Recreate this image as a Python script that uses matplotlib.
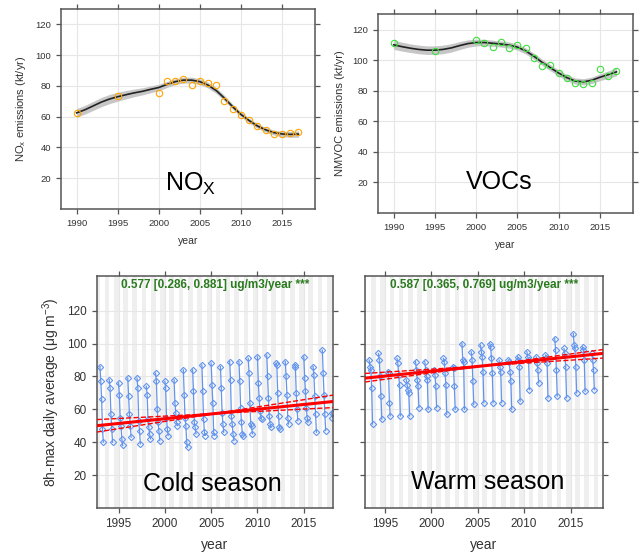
import numpy as np
import matplotlib.pyplot as plt

plt.rcParams['font.family'] = ['Liberation Sans', 'DejaVu Sans']

# annual emissions (points) and smooth fit with its band
em_years = [1990, 1995, 2000, 2001, 2002, 2003, 2004, 2005, 2006, 2007, 2008,
            2009, 2010, 2011, 2012, 2013, 2014, 2015, 2016, 2017]
nox = [62.4, 73.3, 75.4, 83.5, 83.0, 84.8, 80.9, 83.5, 82.0, 80.4, 70.0,
       65.0, 61.3, 57.6, 54.1, 51.5, 48.9, 48.7, 49.3, 49.8]
voc = [110.9, 105.9, 113.0, 111.3, 108.7, 112.0, 108.0, 110.2, 108.0, 101.1, 96.3,
       96.7, 91.3, 88.5, 84.8, 84.3, 85.2, 93.9, 89.6, 93.0]

fit_years = list(range(1990, 2018))
nox_fit = [62.5, 64.5, 67.0, 69.5, 71.5, 73.0, 74.3, 75.5, 76.5, 77.8, 79.0, 81.0, 82.8, 83.8,
           83.8, 82.8, 80.5, 77.0, 72.0, 66.5, 61.5, 57.5, 54.0, 51.5, 49.7, 48.8, 48.5, 48.7]
nox_band = [2.8, 2.8, 2.9, 3.0, 3.0, 2.9, 2.7, 2.5, 2.3, 2.2, 2.1, 2.0, 1.9, 1.9,
            1.9, 1.9, 1.9, 1.9, 1.8, 1.7, 1.6, 1.5, 1.5, 1.5, 1.6, 1.7, 1.9, 2.1]
voc_fit = [110.0, 108.8, 107.8, 107.0, 106.5, 106.5, 107.0, 108.0, 109.5, 110.8, 111.5, 111.5, 111.0, 110.5,
           109.8, 108.5, 106.0, 102.5, 98.5, 95.0, 91.5, 88.5, 86.3, 85.8, 86.8, 88.8, 90.5, 92.3]
voc_band = [3.0, 2.9, 2.8, 2.8, 2.8, 2.8, 2.8, 2.7, 2.6, 2.4, 2.2, 2.1, 2.0, 2.0,
            2.0, 2.0, 2.0, 2.0, 2.0, 2.0, 2.0, 2.0, 2.0, 2.0, 2.1, 2.2, 2.4, 2.6]

# monthly 8h-max ozone, grouped by season year
cold_years = list(range(1993, 2019))
cold = [
    [86, 77, 66, 48, 40], [78, 73, 57, 48, 40], [76, 69, 55, 50, 42, 38],
    [79, 68, 57, 50, 43], [79, 73, 53, 47, 39], [74, 69, 54, 49, 45, 42],
    [82, 77, 60, 52, 47, 41], [77, 73, 55, 48, 44], [78, 64, 58, 52, 50],
    [84, 69, 55, 50, 40, 37], [84, 71, 52, 49, 45], [87, 71, 54, 46, 44],
    [88, 75, 64, 46, 44], [86, 73, 58, 51, 46], [89, 78, 56, 51, 45, 41],
    [89, 77, 61, 52, 45, 44], [91, 82, 64, 51, 50, 45], [92, 76, 67, 59, 55, 54],
    [93, 80, 67, 56, 51, 49], [88, 87, 70, 56, 49, 48], [89, 80, 69, 55, 51],
    [87, 86, 70, 60, 53], [92, 79, 71, 61, 55, 52], [86, 81, 68, 57, 46],
    [96, 82, 69, 57, 47], [58, 55],
]
warm_years = list(range(1993, 2018))
warm = [
    [90, 86, 84, 73, 51], [94, 90, 80, 68, 54], [83, 82, 64, 56],
    [91, 88, 81, 75, 56], [78, 75, 72, 70, 56], [89, 84, 78, 74, 61],
    [89, 84, 80, 78, 60], [84, 81, 74, 61], [91, 89, 82, 75, 57],
    [86, 85, 74, 60], [100, 90, 89, 60], [95, 90, 77, 63],
    [99, 95, 92, 83, 64], [100, 98, 91, 82, 64], [90, 86, 83, 64],
    [90, 89, 83, 77, 60], [92, 90, 86, 65], [95, 92, 90, 72],
    [92, 88, 84, 76], [93, 91, 88, 67], [103, 96, 84, 68],
    [97, 94, 86, 67], [106, 99, 97, 86, 70], [98, 96, 90, 71],
    [94, 90, 84, 72],
]

# Theil-Sen slope [lower, upper] and level at the middle year
cold_trend = [0.577, 0.286, 0.881]
cold_mid = (2005.4, 57.4)
warm_trend = [0.587, 0.365, 0.769]
warm_mid = (2005.7, 86.5)

fig = plt.figure(figsize=(6.41, 5.6), dpi=100)
frame = '#555555'


def style(ax, fs):
    ax.tick_params(direction='out', length=3.5, width=0.9, color=frame,
                   labelsize=fs, labelcolor='#333333', top=True, right=True)
    for s in ax.spines.values():
        s.set_color(frame)
        s.set_linewidth(1.1)
    ax.grid(True, color='#e6e6e6', lw=0.8)
    ax.set_axisbelow(True)


def emissions(ax, y, fit, band, col, ylab, big, bx, by):
    fit = np.array(fit)
    band = np.array(band)
    ax.fill_between(fit_years, fit - band, fit + band, color='#c6c6c6', lw=0)
    ax.plot(fit_years, fit, color='#222222', lw=1.2)
    ax.plot(em_years, y, 'o', mfc='none', mec=col, ms=4.6, mew=0.8)
    ax.set_xlim(1988.1, 2019)
    ax.set_ylim(0, 130)
    ax.set_xticks(range(1990, 2016, 5))
    ax.set_yticks(range(20, 121, 20))
    style(ax, 6.8)
    ax.set_xlabel('year', fontsize=7.5, color='#333333', labelpad=6)
    ax.set_ylabel(ylab, fontsize=8, color='#333333', labelpad=5)
    ax.text(bx, by, big, fontsize=18, ha='center', va='center')


ax1 = fig.add_axes([0.0952, 0.6268, 0.396, 0.357])
emissions(ax1, nox, nox_fit, nox_band, '#FFA500',
          r'NO$_\mathregular{x}$ emissions (kt/yr)', r'NO$_\mathregular{X}$', 2003.9, 16)
ax2 = fig.add_axes([0.5897, 0.6196, 0.3978, 0.355])
emissions(ax2, voc, voc_fit, voc_band, '#3ee03e',
          'NMVOC emissions (kt/yr)', 'VOCs', 2002.8, 20)


def season(ax, yrs, groups, start, trend, mid, xlim, label, lx, ly):
    ax.set_xlim(*xlim)
    ax.set_ylim(0, 141)
    for y in range(1992, 2019):
        ax.axvspan(y + 0.5, y + 1.0, color='#efefef', lw=0, zorder=0)
    for yr, vals in zip(yrs, groups):
        x = yr + start + 0.09 * np.arange(len(vals))
        ax.plot(x, vals, '-D', color='#6495ED', lw=0.9, ms=3.2,
                mfc='none', mew=0.8, zorder=2)
    xs = np.array(xlim)
    s, lo, hi = trend
    ax.plot(xs, mid[1] + s * (xs - mid[0]), color='red', lw=2.2, zorder=3)
    for k in (lo, hi):
        ax.plot(xs, mid[1] + k * (xs - mid[0]), color='red', lw=1.0, ls='--', zorder=3)
    ax.text(np.mean(xlim), 135.5, f'{s:.3f} [{lo:.3f}, {hi:.3f}] ug/m3/year ***',
            fontsize=8.5, fontweight='bold', color='#2a7a1e', ha='center', va='center')
    ax.set_xticks(range(1995, 2016, 5))
    ax.set_yticks(range(20, 121, 20))
    style(ax, 8.5)
    ax.set_xlabel('year', fontsize=10, color='#333333', labelpad=6)
    ax.text(lx, ly, label, fontsize=18, ha='center', va='center')


ax3 = fig.add_axes([0.1509, 0.0929, 0.3686, 0.414])
season(ax3, cold_years, cold, 0.0, cold_trend, cold_mid, (1992.65, 2018.15),
       'Cold season', 2005.1, 14.5)
ax3.set_ylabel(r'8h-max daily average (μg m$^{\mathregular{-3}}$)', fontsize=10,
               color='#333333', labelpad=4)
ax4 = fig.add_axes([0.5694, 0.0929, 0.3713, 0.414])
season(ax4, warm_years, warm, 0.3, warm_trend, warm_mid, (1992.85, 2018.5),
       'Warm season', 2006.1, 16)
ax4.tick_params(labelleft=False)

fig.savefig('out.png', dpi=100)
